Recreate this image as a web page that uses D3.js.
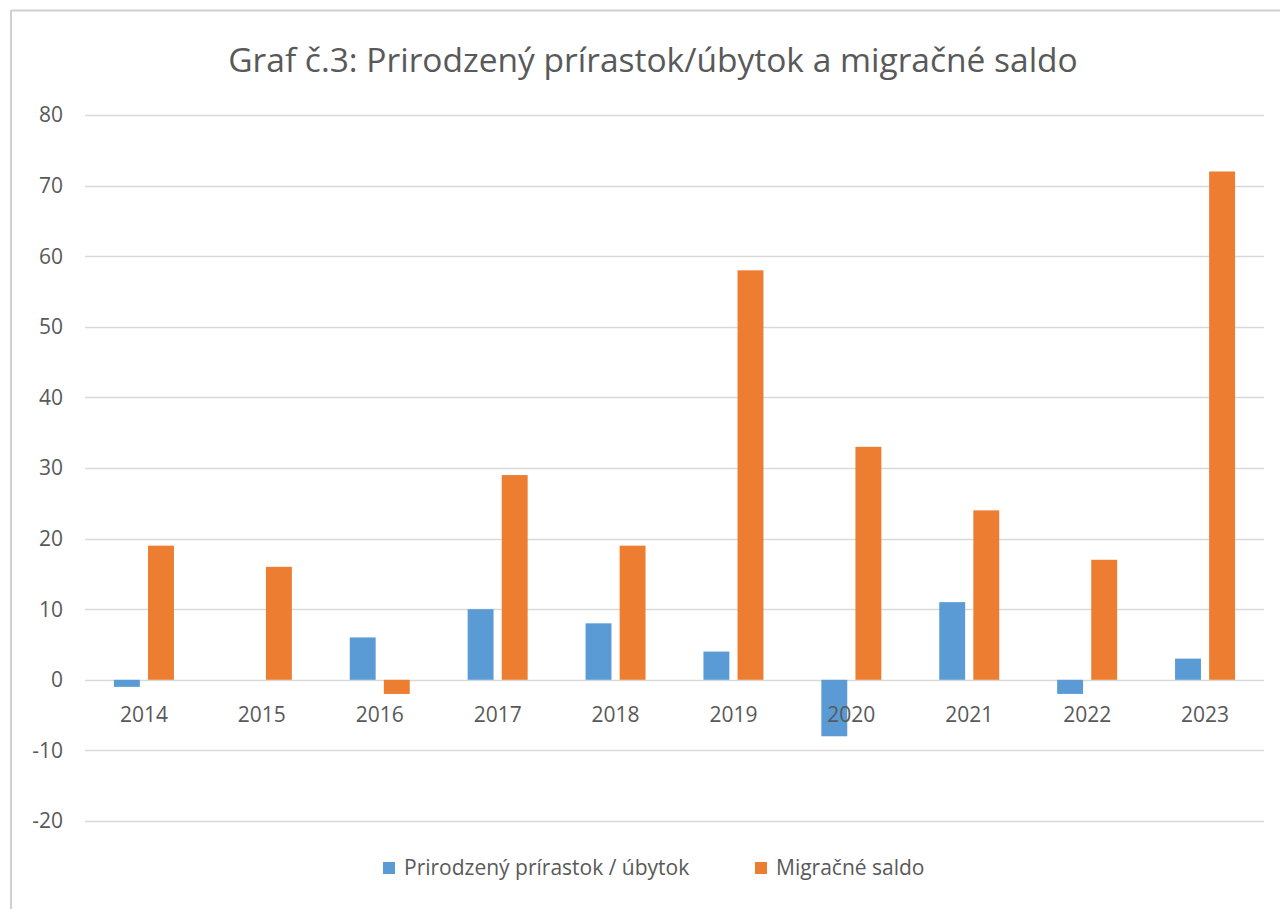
<!DOCTYPE html>
<html>
<head>
<meta charset="utf-8">
<script src="https://cdn.jsdelivr.net/npm/d3@7"></script>
<style>
  body { margin: 0; background: #fff; }
  svg { display: block; font-family: "Open Sans", sans-serif; }
</style>
</head>
<body>
<div id="chart"></div>
<script>
const years = ["2014", "2015", "2016", "2017", "2018", "2019", "2020", "2021", "2022", "2023"];
const natural = [-1, 0, 6, 10, 8, 4, -8, 11, -2, 3];
const migration = [19, 16, -2, 29, 19, 58, 33, 24, 17, 72];
const yTicks = [-20, -10, 0, 10, 20, 30, 40, 50, 60, 70, 80];
const seriesNames = ["Prirodzený prírastok / úbytok", "Migračné saldo"];
const colors = ["#5B9BD5", "#ED7D31"];

const W = 1280, H = 909;
const margin = { top: 115, right: 16, bottom: 88, left: 85 };
const width = W - margin.left - margin.right;
const height = H - margin.top - margin.bottom;

const svg = d3.select("#chart").append("svg")
    .attr("width", W)
    .attr("height", H);

// outer chart frame (top and left edges visible)
svg.append("line").attr("x1", 11).attr("x2", W).attr("y1", 10.5).attr("y2", 10.5)
    .attr("stroke", "#d0d0d0").attr("stroke-width", 2);
svg.append("line").attr("x1", 11).attr("x2", 11).attr("y1", 10).attr("y2", H)
    .attr("stroke", "#d0d0d0").attr("stroke-width", 2);

svg.append("text")
    .attr("x", 653)
    .attr("y", 72)
    .attr("text-anchor", "middle")
    .style("font-size", "33.5px")
    .style("fill", "#595959")
    .text("Graf č.3: Prirodzený prírastok/úbytok a migračné saldo");

const g = svg.append("g")
    .attr("transform", `translate(${margin.left},${margin.top})`);

const y = d3.scaleLinear()
    .domain([-20, 80])
    .range([height, 0]);

const x = d3.scaleBand()
    .domain(years)
    .range([0, width]);

const x1 = d3.scaleBand()
    .domain([0, 1])
    .range([x.bandwidth() / 2 - 30, x.bandwidth() / 2 + 30])
    .paddingInner(0.24);

// gridlines
g.selectAll(".grid")
    .data(yTicks)
    .enter()
    .append("line")
    .attr("class", "grid")
    .attr("x1", 0)
    .attr("x2", width)
    .attr("y1", d => Math.round(y(d)) + 0.5)
    .attr("y2", d => Math.round(y(d)) + 0.5)
    .attr("stroke", "#d9d9d9")
    .attr("stroke-width", 1.5);

// y labels
g.selectAll(".ylab")
    .data(yTicks)
    .enter()
    .append("text")
    .attr("class", "ylab")
    .attr("x", -22)
    .attr("y", d => y(d))
    .attr("dy", "0.35em")
    .attr("text-anchor", "end")
    .style("font-size", "21px")
    .style("fill", "#595959")
    .text(d => d);

const rows = years.map((yr, i) => ({ year: yr, vals: [natural[i], migration[i]] }));

const groups = g.selectAll(".grp")
    .data(rows)
    .enter()
    .append("g")
    .attr("class", "grp")
    .attr("transform", d => `translate(${x(d.year)},0)`);

groups.selectAll("rect")
    .data(d => d.vals.map((v, s) => ({ v, s })))
    .enter()
    .append("rect")
    .attr("x", d => x1(d.s))
    .attr("width", x1.bandwidth())
    .attr("y", d => y(Math.max(0, d.v)))
    .attr("height", d => Math.abs(y(d.v) - y(0)))
    .attr("fill", d => colors[d.s]);

// x labels
g.selectAll(".xlab")
    .data(years)
    .enter()
    .append("text")
    .attr("class", "xlab")
    .attr("x", d => x(d) + x.bandwidth() / 2)
    .attr("y", y(0) + 42)
    .attr("text-anchor", "middle")
    .style("font-size", "21px")
    .style("fill", "#595959")
    .text(d => d);

// legend
const legendX = [383, 755];
const legend = svg.selectAll(".leg")
    .data(seriesNames)
    .enter()
    .append("g")
    .attr("class", "leg")
    .attr("transform", (d, i) => `translate(${legendX[i]},868)`);

legend.append("rect")
    .attr("x", 0)
    .attr("y", -6)
    .attr("width", 12)
    .attr("height", 12)
    .attr("fill", (d, i) => colors[i]);

legend.append("text")
    .attr("x", 21)
    .attr("y", 0)
    .attr("dy", "0.35em")
    .style("font-size", "21px")
    .style("fill", "#595959")
    .text(d => d);
</script>
</body>
</html>
